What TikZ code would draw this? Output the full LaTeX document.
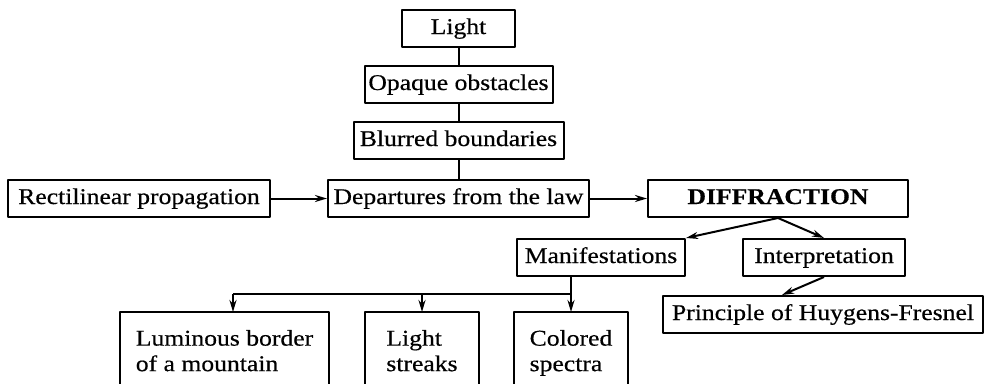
\documentclass[tikz,border=0pt]{standalone}
\usepackage{fontspec}
\setmainfont{Liberation Serif}[FakeStretch=1.14, FakeBold=0.5]
\usetikzlibrary{arrows.meta}
\tikzset{
	blk/.style={draw, text height=16pt, text depth=5pt, inner xsep=0pt, inner ysep=8pt},
	cut/.style={align=left, anchor=north, inner xsep=0pt, inner ysep=17pt},
	arr/.style={-{Stealth[length=12pt,width=7pt]}},
}
\begin{document}
\begin{tikzpicture}[x=1pt, y=-1pt, font=\fontsize{22.5}{25.5}\selectfont, line width=2pt, line join=round]
	\useasboundingbox (0,0) rectangle (985,383);
	\clip (0,0) rectangle (985,383);
	% upper chain
	\node[blk, minimum width=113pt] (light) at (458.5,28.5) {Light};
	\node[blk, minimum width=188pt] (opaque) at (458.5,84.5) {Opaque obstacles};
	\node[blk, minimum width=210pt] (blur) at (458.5,140.5) {Blurred boundaries};
	\node[blk, minimum width=261pt] (dep) at (458.5,198.5) {Departures from the law};
	\node[blk, minimum width=262pt] (rect) at (139,198.5) {Rectilinear propagation};
	\node[blk, minimum width=260pt] (diff) at (778,198.5) {\textbf{DIFFRACTION}};
	% lower part
	\node[blk, minimum width=168pt] (manif) at (601,257.5) {Manifestations};
	\node[blk, minimum width=162pt] (interp) at (824,257.5) {Interpretation};
	\node[blk, minimum width=320pt] (huyg) at (823,314.5) {Principle of Huygens-Fresnel};
	\node[cut, minimum width=207pt] (mount) at (224.5,312) {Luminous border\\of a mountain};
	\node[cut, minimum width=112pt] (streak) at (422,312) {Light\\streaks};
	\node[cut, minimum width=112pt] (spectra) at (571,312) {Colored\\spectra};
	% open boxes at the bottom
	\draw ([yshift=-90pt]mount.north west) -- (mount.north west) -- (mount.north east) -- ([yshift=-90pt]mount.north east);
	\draw ([yshift=-90pt]streak.north west) -- (streak.north west) -- (streak.north east) -- ([yshift=-90pt]streak.north east);
	\draw ([yshift=-90pt]spectra.north west) -- (spectra.north west) -- (spectra.north east) -- ([yshift=-90pt]spectra.north east);
	% connectors
	\draw (light.south) -- (opaque.north) (opaque.south) -- (blur.north) (blur.south) -- (dep.north);
	\draw[arr] (rect) -- (dep);
	\draw[arr] (dep) -- (diff);
	\draw[arr] (diff.south) -- (manif.north east);
	\draw[arr] (diff.south) -- (interp.north);
	\draw[arr] (interp.south) -- ([xshift=-41pt]huyg.north);
	\coordinate (busR) at (571,294);
	\coordinate (busL) at (233,294);
	\draw (busR |- manif.south) -- (busR) -- (busL);
	\draw[arr] (busL) -- (busL |- mount.north);
	\draw[arr] (streak.north |- busR) -- (streak.north);
	\draw[arr] (busR) -- (spectra.north);
\end{tikzpicture}
\end{document}
